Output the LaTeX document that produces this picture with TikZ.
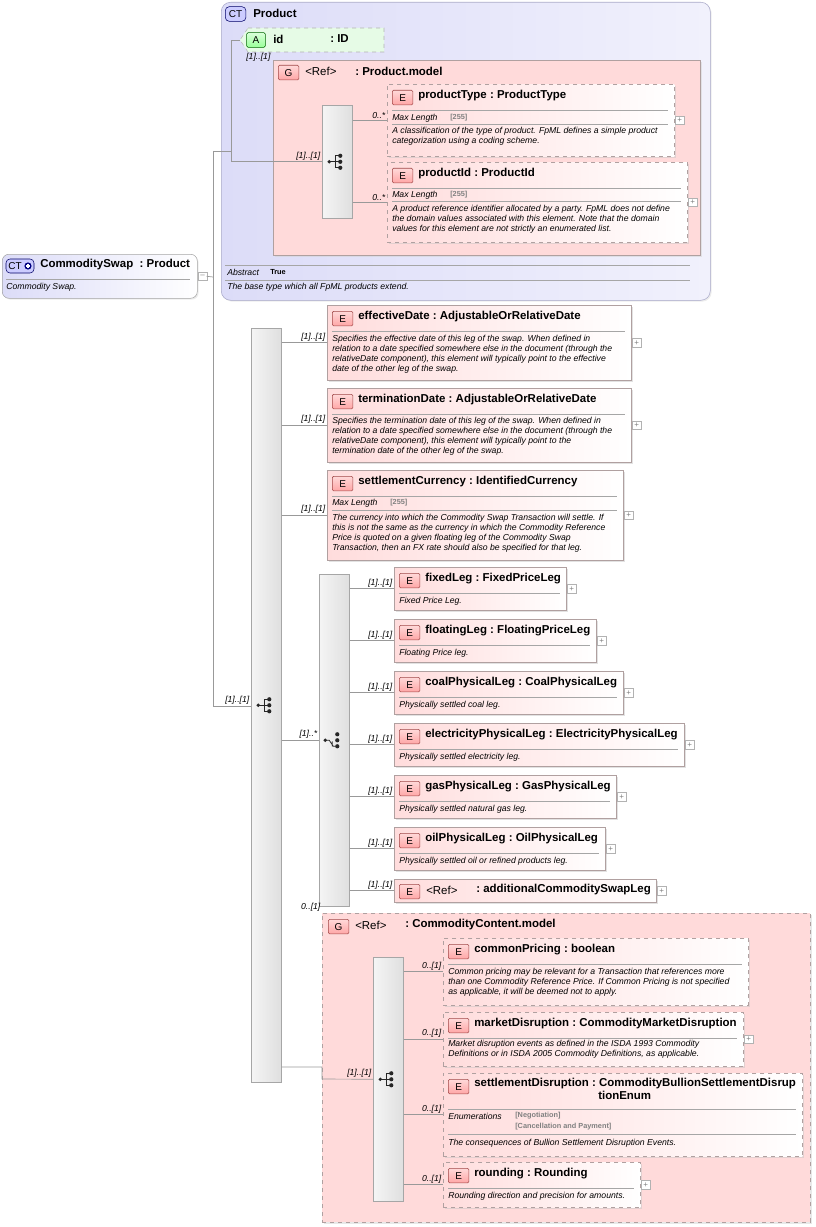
\documentclass[tikz,border=0pt]{standalone}
\usepackage{fontspec}
\setmainfont{Liberation Sans}
\usetikzlibrary{shadows}

\definecolor{ctfill}{HTML}{DCDCF8}
\definecolor{ctdraw}{HTML}{A8A8C8}
\definecolor{gfill}{HTML}{FFDADA}
\definecolor{efill}{HTML}{FFDCDC}
\definecolor{edraw}{HTML}{B0A0A0}
\definecolor{bdraw}{HTML}{A04848}
\definecolor{afill}{HTML}{E6FBE6}

\tikzset{
  ebox/.style={draw=edraw, left color=efill, right color=white, inner sep=0pt,
    drop shadow={shadow xshift=1.2pt, shadow yshift=-1.2pt, fill=gray!45}},
  gbox/.style={draw=edraw, fill=gfill, inner sep=0pt,
    drop shadow={shadow xshift=1.5pt, shadow yshift=-1.5pt, fill=gray!35}},
  seqbox/.style={draw=gray!70, left color=gray!8, right color=gray!25, inner sep=0pt},
  badge/.style={draw=bdraw, top color=red!15, bottom color=red!35, rounded corners=1pt,
    minimum width=15.5pt, minimum height=11pt, inner sep=0pt, font=\fontsize{7.5}{8}\selectfont},
  ttl/.style={anchor=west, inner sep=0pt, font=\fontsize{8.6}{10}\selectfont\bfseries},
  desc/.style={anchor=north west, inner sep=0pt, align=left, font=\fontsize{6.5}{7.5}\selectfont\itshape},
  facet/.style={anchor=west, inner sep=0pt, font=\fontsize{6.5}{7.5}\selectfont\itshape},
  fval/.style={anchor=west, inner sep=0pt, text=gray, font=\fontsize{5.5}{7.5}\selectfont\bfseries},
  sep/.style={draw=gray!70},
  conn/.style={draw=gray!80, line width=0.5pt},
  card/.style={above left, inner sep=1pt, font=\fontsize{6.5}{7}\selectfont\itshape},
  pm/.style={draw=gray!60, fill=white, minimum size=6.5pt, inner sep=0pt, text=gray,
    font=\fontsize{6}{6}\selectfont},
  seqicon/.pic={
    \fill[gray!30!black] (-8,0) circle (1.8);
    \draw[gray!30!black, line width=0.6pt] (-8,0) -- (-2,0) (-2,-6) -- (-2,6);
    \foreach \yy in {-6,0,6}{\draw[gray!30!black, line width=0.6pt] (-2,\yy) -- (2,\yy); \fill[gray!30!black] (3,\yy) circle (2.1);}
  },
  choiceicon/.pic={
    \fill[gray!30!black] (-9,0) circle (1.8);
    \draw[gray!30!black, line width=0.6pt] (-9,0) -- (-5,0) -- (-1,6) -- (1,6) (-2,6) -- (-2,1);
    \foreach \yy in {-6,0,6}{\fill[gray!30!black] (3,\yy) circle (2.1);}
  }
}

% element box: name, x1, y1, x2, y2, title
\newcommand\elem[7][solid]{%
  \node[ebox,#1,anchor=north west,minimum width={(#5-#3)*0.75pt},minimum height={(#6-#4)*0.75pt}] (#2) at (#3,#4) {};
  \node[badge,anchor=north west] at (#3+5,#4+6) {E};
  \node[ttl] at (#3+31,#4+12) {#7};
  \draw[sep] (#3+5,#4+26) -- (#5-6,#4+26);
}
\newcommand\pmark[2][+]{\node[pm] at ([xshift=3.8pt]#2.east) {#1};}

\begin{document}
\begin{tikzpicture}[x=0.75pt,y=-0.75pt]
\useasboundingbox (0,0) rectangle (816,1227);

% CommoditySwap
\node[draw=gray!70, left color=ctfill, right color=white, rounded corners=5pt, inner sep=0pt,
  anchor=north west, minimum width=146.25pt, minimum height=33pt,
  drop shadow={shadow xshift=1pt, shadow yshift=-1pt, fill=gray!30}] (cswap) at (2,254) {};
\draw[draw=blue!40!black, fill=blue!20, rounded corners=3pt] (6,259) rectangle (34,273);
\node[inner sep=0pt, font=\fontsize{7.5}{8}\selectfont] at (15,266) {CT};
\fill[blue!50!black] (28,266) circle (3.6);
\draw[white, line width=0.8pt] (25.6,266) -- (30.4,266) (28,263.6) -- (28,268.4);
\node[ttl] at (40,265) {CommoditySwap~~:~Product};
\draw[sep] (6,279) -- (190,279);
\node[desc] at (6,283) {Commodity Swap.};
\pmark[--]{cswap}

% Product complex type
\node[draw=ctdraw, left color=ctfill, right color=ctfill!40, rounded corners=7pt, inner sep=0pt,
  anchor=north west, minimum width=366.75pt, minimum height=223.5pt,
  drop shadow={shadow xshift=1pt, shadow yshift=-1pt, fill=gray!30}] (product) at (221,2) {};
\node[draw=blue!40!black, fill=blue!20, rounded corners=3pt, minimum width=15.5pt, minimum height=11pt,
  inner sep=0pt, anchor=west, font=\fontsize{7.5}{8}\selectfont] at (225,14) {CT};
\node[ttl] at (253,13) {Product};

% attribute id
\draw[dashed, draw=gray!60, fill=afill] (248,28) -- (384,28) -- (384,52) -- (248,52) -- (240,40) -- cycle;
\coordinate (idatt) at (240,40);
\node[draw=green!40!black, top color=green!15, bottom color=green!40, rounded corners=1pt, minimum width=14pt,
  minimum height=11pt, inner sep=0pt, font=\fontsize{7.5}{8}\selectfont] at (256,40) {A};
\node[ttl] at (273,39) {id};
\node[ttl] at (330,39) {:~ID};

% Product.model group
\node[gbox, anchor=north west, minimum width=320.25pt, minimum height=146.25pt] (pmodel) at (273,60) {};
\node[badge,anchor=north west] at (278,65) {G};
\node[ttl, font=\fontsize{8.6}{10}\selectfont] at (305,71) {<Ref>};
\node[ttl] at (355,71) {:~Product.model};
\node[seqbox, anchor=north west, minimum width=22.5pt, minimum height=84.75pt] (pseq) at (322,105) {};
\pic at (pseq.center) {seqicon};

\elem[dashed]{ptype}{387}{84}{674}{156}{productType~:~ProductType}
\node[facet] at (392,118) {Max Length}; \node[fval] at (450,118) {[255]};
\draw[sep] (392,124) -- (668,124);
\node[desc] at (392,127) {A classification of the type of product. FpML defines a simple product\\categorization using a coding scheme.};
\pmark{ptype}

\elem[dashed]{pid}{387}{162}{687}{242}{productId~:~ProductId}
\node[facet] at (392,195) {Max Length}; \node[fval] at (450,195) {[255]};
\draw[sep] (392,201) -- (681,201);
\node[desc] at (392,205) {A product reference identifier allocated by a party. FpML does not define\\the domain values associated with this element. Note that the domain\\values for this element are not strictly an enumerated list.};
\pmark{pid}

\draw[sep] (225,265) -- (690,265);
\node[facet] at (227,272) {Abstract};
\node[fval, text=black] at (270,272) {True};
\draw[sep] (225,280) -- (690,280);
\node[desc] at (227,283) {The base type which all FpML products extend.};

% main sequence
\node[seqbox, anchor=north west, minimum width=22.5pt, minimum height=565.5pt] (mseq) at (251,328) {};
\pic at (mseq.center) {seqicon};

\elem{eff}{327}{305}{631}{380}{effectiveDate~:~AdjustableOrRelativeDate}
\node[desc] at (332,335) {Specifies the effective date of this leg of the swap. When defined in\\relation to a date specified somewhere else in the document (through the\\relativeDate component), this element will typically point to the effective\\date of the other leg of the swap.};
\pmark{eff}

\elem{term}{327}{388}{631}{462}{terminationDate~:~AdjustableOrRelativeDate}
\node[desc] at (332,417) {Specifies the termination date of this leg of the swap. When defined in\\relation to a date specified somewhere else in the document (through the\\relativeDate component), this element will typically point to the\\termination date of the other leg of the swap.};
\pmark{term}

\elem{scur}{327}{470}{623}{560}{settlementCurrency~:~IdentifiedCurrency}
\node[facet] at (332,503) {Max Length}; \node[fval] at (390,503) {[255]};
\draw[sep] (332,510) -- (617,510);
\node[desc] at (332,514) {The currency into which the Commodity Swap Transaction will settle. If\\this is not the same as the currency in which the Commodity Reference\\Price is quoted on a given floating leg of the Commodity Swap\\Transaction, then an FX rate should also be specified for that leg.};
\pmark{scur}

% choice of legs
\node[seqbox, anchor=north west, minimum width=22.5pt, minimum height=249pt] (chc) at (319,574) {};
\pic at (chc.center) {choiceicon};

\elem{fixed}{394}{567}{566}{610}{fixedLeg~:~FixedPriceLeg}
\node[desc] at (399,597) {Fixed Price Leg.}; \pmark{fixed}
\elem{float}{394}{619}{596}{662}{floatingLeg~:~FloatingPriceLeg}
\node[desc] at (399,649) {Floating Price leg.}; \pmark{float}
\elem{coal}{394}{671}{623}{714}{coalPhysicalLeg~:~CoalPhysicalLeg}
\node[desc] at (399,701) {Physically settled coal leg.}; \pmark{coal}
\elem{elec}{394}{723}{684}{766}{electricityPhysicalLeg~:~ElectricityPhysicalLeg}
\node[desc] at (399,753) {Physically settled electricity leg.}; \pmark{elec}
\elem{gas}{394}{775}{616}{818}{gasPhysicalLeg~:~GasPhysicalLeg}
\node[desc] at (399,805) {Physically settled natural gas leg.}; \pmark{gas}
\elem{oil}{394}{827}{605}{870}{oilPhysicalLeg~:~OilPhysicalLeg}
\node[desc] at (399,857) {Physically settled oil or refined products leg.}; \pmark{oil}
\node[ebox, anchor=north west, minimum width=196.5pt, minimum height=17.25pt] (addl) at (394,879) {};
\node[badge,anchor=north west] at (399,884) {E};
\node[ttl, font=\fontsize{8.6}{10}\selectfont] at (426,890) {<Ref>};
\node[ttl] at (476,890) {:~additionalCommoditySwapLeg};
\pmark{addl}

% CommodityContent.model group
\node[gbox, dashed, anchor=north west, minimum width=366pt, minimum height=231.75pt] (cmodel) at (322,913) {};
\node[badge,anchor=north west] at (328,919) {G};
\node[ttl, font=\fontsize{8.6}{10}\selectfont] at (355,925) {<Ref>};
\node[ttl] at (405,925) {:~CommodityContent.model};
\node[seqbox, anchor=north west, minimum width=22.5pt, minimum height=183pt] (cseq) at (373,957) {};
\pic at (cseq.center) {seqicon};

\elem[dashed]{cprice}{443}{938}{748}{1005}{commonPricing~:~boolean}
\node[desc] at (448,968) {Common pricing may be relevant for a Transaction that references more\\than one Commodity Reference Price. If Common Pricing is not specified\\as applicable, it will be deemed not to apply.};

\elem[dashed]{mdis}{443}{1012}{743}{1066}{marketDisruption~:~CommodityMarketDisruption}
\node[desc] at (448,1040) {Market disruption events as defined in the ISDA 1993 Commodity\\Definitions or in ISDA 2005 Commodity Definitions, as applicable.};
\pmark{mdis}

\node[ebox, dashed, anchor=north west, minimum width=269.25pt, minimum height=62.25pt] (sdis) at (443,1073) {};
\node[badge,anchor=north west] at (448,1079) {E};
\node[ttl, anchor=north west, align=left] at (474,1078) {settlementDisruption~:~CommodityBullionSettlementDisrup\\\hspace{93pt}tionEnum};
\draw[sep] (448,1109) -- (796,1109);
\node[facet] at (448,1116) {Enumerations};
\node[fval] at (515,1116) {[Negotiation]};
\node[fval] at (515,1127) {[Cancellation and Payment]};
\draw[sep] (448,1134) -- (796,1134);
\node[desc] at (448,1139) {The consequences of Bullion Settlement Disruption Events.};

\elem[dashed]{rnd}{443}{1162}{640}{1207}{rounding~:~Rounding}
\node[desc] at (448,1192) {Rounding direction and precision for amounts.};
\pmark{rnd}

% connectors
\draw[conn] (cswap.east) ++(9,0) -- (213,277);
\draw[conn] (213,151) -- (213,706) -- (mseq.west |- 0,706) node[card] {[1]..[1]};
\draw[conn] (213,151) -- (231,151) -- (231,40) -- (idatt);
\draw[conn] (231,151) |- (pseq.west) node[card] {[1]..[1]};
\node[card] at (272,63) {[1]..[1]};
\draw[conn] (pseq.east |- ptype.west) -- (ptype.west) node[card] {0..*};
\draw[conn] (pseq.east |- pid.west) -- (pid.west) node[card] {0..*};
\foreach \t in {eff,term,scur}
  \draw[conn] (mseq.east |- \t.west) -- (\t.west) node[card] {[1]..[1]};
\draw[conn] (mseq.east |- chc.west) -- (chc.west) node[card] {[1]..*};
\foreach \t in {fixed,float,coal,elec,gas,oil,addl}
  \draw[conn] (chc.east |- \t.west) -- (\t.west) node[card] {[1]..[1]};
\draw[conn] (mseq.east |- 0,1067) -- (322,1067) -- (322,1079) -- (cseq.west) node[card] {[1]..[1]};
\node[card] at (322,913) {0..[1]};
\foreach \t in {cprice,mdis,sdis,rnd}
  \draw[conn] (cseq.east |- \t.west) -- (\t.west) node[card] {0..[1]};
\end{tikzpicture}
\end{document}
